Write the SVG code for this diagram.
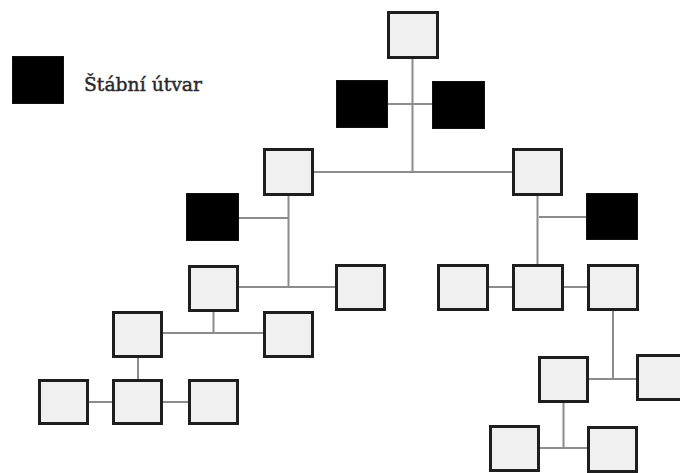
<svg xmlns="http://www.w3.org/2000/svg" width="680" height="473" viewBox="0 0 680 473">
<style>
.unit{fill:#f0f0f0;stroke:#1e1e1e;stroke-width:3}
.staff{fill:#000;stroke:#111;stroke-width:1}
.conn{stroke:#8c8c8c;stroke-width:2;fill:none}
.lbl{font-family:"DejaVu Serif","Liberation Serif",serif;font-size:19px;fill:#2a2a2a;stroke:#2a2a2a;stroke-width:0.45}
</style>
<rect width="680" height="473" fill="#fff"/>
<g id="connectors" class="conn">
<path d="M412.5 59V172M388 104H432M314 172H512"/>
<path d="M288.5 196V287M239 218H288.5M239 287H335"/>
<path d="M537.5 196V264M539 217H586"/>
<path d="M213.5 312V333M163 333H263M138 358V379M89 402H112M163 402H188"/>
<path d="M489 287H512M564 287H587M613 311V379M589 379H636M563.5 403V448M540 448H587"/>
</g>
<g id="legend">
<rect class="staff" x="12.5" y="56.5" width="51" height="47"/>
<text class="lbl" x="84" y="91" textLength="118" lengthAdjust="spacingAndGlyphs">Štábní útvar</text>
</g>
<g id="top"><rect class="unit" x="388.5" y="12.5" width="49" height="45"/></g>
<g id="staff-l1"><rect class="staff" x="336.5" y="80.5" width="51" height="47"/></g>
<g id="staff-r1"><rect class="staff" x="432.5" y="81.5" width="52" height="47"/></g>
<g id="a1"><rect class="unit" x="264.5" y="149.5" width="48" height="45"/></g>
<g id="b1"><rect class="unit" x="513.5" y="149.5" width="48" height="45"/></g>
<g id="staff-l2"><rect class="staff" x="186.5" y="193.5" width="52" height="47"/></g>
<g id="staff-r2"><rect class="staff" x="586.5" y="193.5" width="51" height="46"/></g>
<g id="a"><rect class="unit" x="189.5" y="266.5" width="48" height="44"/></g>
<g id="a-r"><rect class="unit" x="336.5" y="265.5" width="48" height="44"/></g>
<g id="g"><rect class="unit" x="438.5" y="265.5" width="49" height="44"/></g>
<g id="h"><rect class="unit" x="513.5" y="265.5" width="49" height="44"/></g>
<g id="i"><rect class="unit" x="588.5" y="265.5" width="49" height="44"/></g>
<g id="b"><rect class="unit" x="113.5" y="312.5" width="48" height="44"/></g>
<g id="c"><rect class="unit" x="264.5" y="312.5" width="48" height="44"/></g>
<g id="d"><rect class="unit" x="39.5" y="380.5" width="48" height="43"/></g>
<g id="e"><rect class="unit" x="113.5" y="380.5" width="48" height="43"/></g>
<g id="f"><rect class="unit" x="189.5" y="380.5" width="48" height="43"/></g>
<g id="j"><rect class="unit" x="539.5" y="357.5" width="48" height="44"/></g>
<g id="k"><rect class="unit" x="637.5" y="355.5" width="48" height="44"/></g>
<g id="l"><rect class="unit" x="490.5" y="426.5" width="48" height="44"/></g>
<g id="m"><rect class="unit" x="588.5" y="427.5" width="48" height="44"/></g>
</svg>
